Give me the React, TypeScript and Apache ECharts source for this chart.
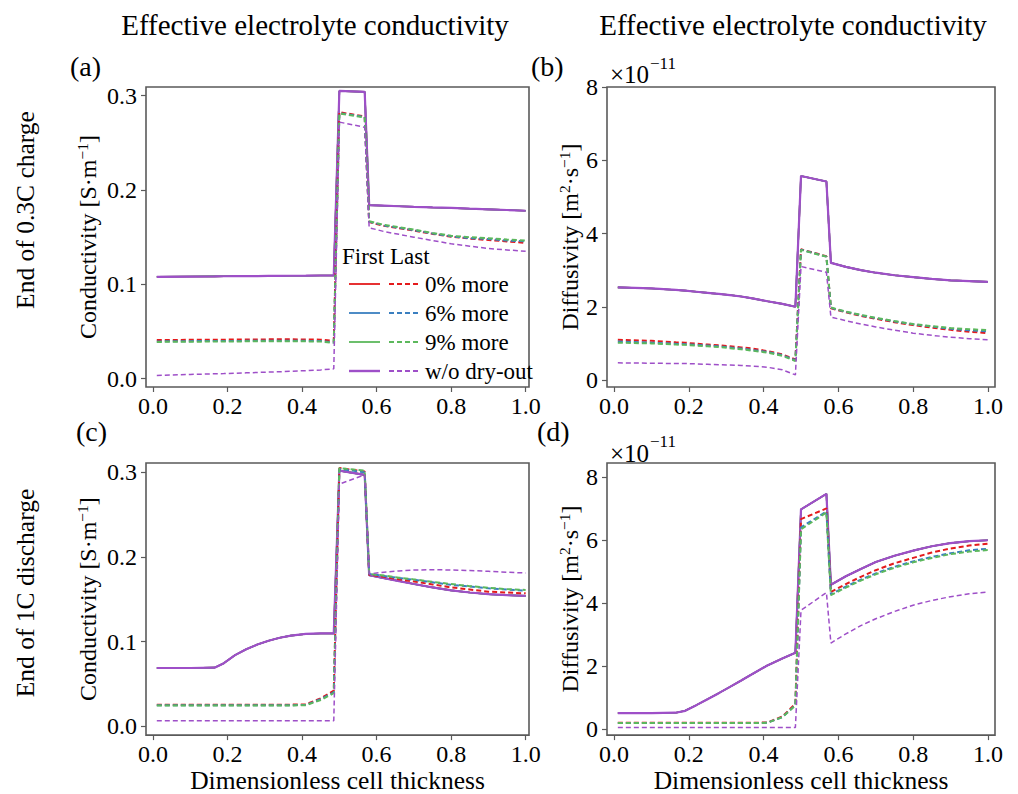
import React, { useEffect, useRef } from "react";
import * as echarts from "echarts";

// ---- data ----
const X = [0.01, 0.1, 0.165, 0.19, 0.22, 0.25, 0.28, 0.31, 0.34, 0.37, 0.41, 0.45, 0.485, 0.5, 0.568, 0.58, 0.62, 0.66, 0.7, 0.75, 0.8, 0.85, 0.9, 0.95, 1.0];
const X_TICKS = [0, 0.2, 0.4, 0.6, 0.8, 1.0];
const COND_TICKS = [0, 0.1, 0.2, 0.3];
const DIFF_TICKS = [0, 2, 4, 6, 8];

// (a) conductivity, end of 0.3C charge
const aFirst = [0.108, 0.1083, 0.1085, 0.1086, 0.1087, 0.1087, 0.1088, 0.1089, 0.109, 0.1091, 0.1092, 0.1094, 0.1095, 0.305, 0.304, 0.184, 0.1834, 0.1828, 0.1822, 0.1815, 0.181, 0.1802, 0.1795, 0.1788, 0.178];
const aLast0 = [0.041, 0.0412, 0.0414, 0.0414, 0.0415, 0.0416, 0.0416, 0.0417, 0.0417, 0.0417, 0.0416, 0.0414, 0.04, 0.2825, 0.278, 0.166, 0.162, 0.1595, 0.157, 0.1535, 0.1505, 0.1485, 0.147, 0.1455, 0.144];
const aLast6 = [0.0395, 0.0398, 0.04, 0.04, 0.04, 0.0401, 0.0401, 0.0402, 0.0402, 0.0402, 0.0401, 0.04, 0.0385, 0.2815, 0.2775, 0.1665, 0.1625, 0.16, 0.1575, 0.154, 0.151, 0.149, 0.148, 0.1465, 0.1455];
const aLast9 = [0.039, 0.0392, 0.0394, 0.0394, 0.0395, 0.0396, 0.0396, 0.0397, 0.0397, 0.0397, 0.0396, 0.0394, 0.038, 0.281, 0.277, 0.167, 0.163, 0.1605, 0.158, 0.1545, 0.1515, 0.15, 0.149, 0.1475, 0.1465];
const aLastW = [0.0035, 0.0045, 0.0052, 0.0054, 0.0058, 0.0062, 0.0066, 0.007, 0.0074, 0.0079, 0.0085, 0.0093, 0.0105, 0.272, 0.2665, 0.16, 0.156, 0.153, 0.15, 0.1465, 0.143, 0.1405, 0.138, 0.1365, 0.135];

// (b) diffusivity (x1e-11), end of 0.3C charge
const bFirst = [2.53, 2.5, 2.46, 2.44, 2.41, 2.38, 2.35, 2.32, 2.28, 2.23, 2.15, 2.08, 2.0, 5.57, 5.42, 3.2, 3.09, 3.0, 2.93, 2.86, 2.81, 2.76, 2.72, 2.7, 2.68];
const bLast0 = [1.1, 1.07, 1.03, 1.02, 0.99, 0.97, 0.95, 0.92, 0.89, 0.86, 0.79, 0.7, 0.56, 3.57, 3.38, 1.96, 1.85, 1.75, 1.67, 1.58, 1.5, 1.43, 1.37, 1.32, 1.28];
const bLast6 = [1.05, 1.02, 0.99, 0.98, 0.96, 0.94, 0.92, 0.89, 0.86, 0.82, 0.77, 0.68, 0.54, 3.56, 3.37, 1.97, 1.86, 1.77, 1.69, 1.6, 1.52, 1.46, 1.4, 1.36, 1.33];
const bLast9 = [1.02, 1.0, 0.97, 0.96, 0.94, 0.92, 0.9, 0.87, 0.84, 0.8, 0.75, 0.66, 0.52, 3.55, 3.37, 1.98, 1.87, 1.78, 1.7, 1.61, 1.53, 1.47, 1.42, 1.39, 1.36];
const bLastW = [0.47, 0.46, 0.45, 0.45, 0.44, 0.43, 0.42, 0.41, 0.4, 0.38, 0.35, 0.28, 0.14, 3.1, 2.94, 1.72, 1.62, 1.53, 1.45, 1.36, 1.28, 1.22, 1.17, 1.13, 1.1];

// (c) conductivity, end of 1C discharge
const cFirst = [0.0688, 0.0688, 0.0692, 0.0745, 0.084, 0.091, 0.0965, 0.101, 0.1045, 0.107, 0.109, 0.1096, 0.1097, 0.302, 0.297, 0.1785, 0.175, 0.1715, 0.168, 0.164, 0.1605, 0.158, 0.156, 0.1548, 0.154];
const cLast0 = [0.0255, 0.0255, 0.0255, 0.0255, 0.0255, 0.0255, 0.0255, 0.0255, 0.0255, 0.0255, 0.0258, 0.033, 0.042, 0.305, 0.301, 0.179, 0.1765, 0.1735, 0.171, 0.1675, 0.164, 0.1615, 0.159, 0.158, 0.157];
const cLast6 = [0.0248, 0.0248, 0.0248, 0.0248, 0.0248, 0.0248, 0.0248, 0.0248, 0.0248, 0.0248, 0.0251, 0.032, 0.04, 0.304, 0.3, 0.18, 0.1775, 0.175, 0.173, 0.17, 0.167, 0.165, 0.163, 0.1615, 0.16];
const cLast9 = [0.0245, 0.0245, 0.0245, 0.0245, 0.0245, 0.0245, 0.0245, 0.0245, 0.0245, 0.0245, 0.0248, 0.031, 0.039, 0.305, 0.302, 0.18, 0.178, 0.1755, 0.1735, 0.1705, 0.168, 0.1655, 0.1635, 0.162, 0.161];
const cLastW = [0.0066, 0.0066, 0.0066, 0.0066, 0.0066, 0.0066, 0.0066, 0.0066, 0.0066, 0.0066, 0.0066, 0.0066, 0.0066, 0.286, 0.297, 0.18, 0.182, 0.1835, 0.1845, 0.185, 0.1845, 0.184, 0.183, 0.182, 0.181];

// (d) diffusivity (x1e-11), end of 1C discharge
const dFirst = [0.51, 0.51, 0.52, 0.58, 0.76, 0.95, 1.14, 1.34, 1.54, 1.75, 2.02, 2.24, 2.42, 6.97, 7.46, 4.58, 4.85, 5.08, 5.3, 5.5, 5.66, 5.8, 5.9, 5.96, 5.99];
const dLast0 = [0.2, 0.2, 0.2, 0.2, 0.2, 0.2, 0.2, 0.2, 0.2, 0.2, 0.21, 0.4, 0.8, 6.66, 7.0, 4.35, 4.6, 4.83, 5.04, 5.26, 5.43, 5.6, 5.73, 5.82, 5.88];
const dLast6 = [0.19, 0.19, 0.19, 0.19, 0.19, 0.19, 0.19, 0.19, 0.19, 0.19, 0.2, 0.38, 0.76, 6.4, 6.9, 4.27, 4.52, 4.74, 4.94, 5.15, 5.32, 5.46, 5.58, 5.67, 5.72];
const dLast9 = [0.19, 0.19, 0.19, 0.19, 0.19, 0.19, 0.19, 0.19, 0.19, 0.19, 0.2, 0.38, 0.75, 6.34, 6.87, 4.25, 4.49, 4.71, 4.91, 5.12, 5.29, 5.43, 5.55, 5.63, 5.68];
const dLastW = [0.05, 0.05, 0.05, 0.05, 0.05, 0.05, 0.05, 0.05, 0.05, 0.05, 0.05, 0.05, 0.05, 3.77, 4.33, 2.73, 3.02, 3.28, 3.5, 3.73, 3.93, 4.08, 4.2, 4.29, 4.35];

const CASES = ["0% more", "6% more", "9% more", "w/o dry-out"];
const COLORS = ["#e41a1c", "#3a7fc0", "#5cb85c", "#9e4fc8"];

const PANEL_FIRST = [aFirst, bFirst, cFirst, dFirst];
const PANEL_LAST = [
  [aLast0, aLast6, aLast9, aLastW],
  [bLast0, bLast6, bLast9, bLastW],
  [cLast0, cLast6, cLast9, cLastW],
  [dLast0, dLast6, dLast9, dLastW],
];

const FONT = '"Liberation Serif", "Times New Roman", serif';
const AX = "#5a5a5a";

export default function App() {
  const ref = useRef<HTMLDivElement>(null);
  useEffect(() => {
    if (!ref.current) return;
    const chart = echarts.init(ref.current, undefined, { renderer: "svg" });

    const grids = [
      { left: 146, top: 87, width: 383, height: 300 },
      { left: 607, top: 87, width: 388, height: 300 },
      { left: 146, top: 463, width: 383, height: 275 },
      { left: 607, top: 463, width: 388, height: 275 },
    ].map((g) => ({ ...g, show: true, borderColor: AX, borderWidth: 1.6, backgroundColor: "transparent" }));

    const xRanges = [
      [-0.019, 1.009],
      [-0.019, 1.019],
      [-0.019, 1.009],
      [-0.019, 1.019],
    ];
    const yRanges = [
      [-0.0088, 0.3092],
      [-0.19, 8.0],
      [-0.0105, 0.311],
      [-0.19, 8.44],
    ];
    const isCond = [true, false, true, false];

    const xAxis = grids.map((_, i) => ({
      type: "value",
      gridIndex: i,
      min: xRanges[i][0],
      max: xRanges[i][1],
      axisLine: { show: false, onZero: false },
      splitLine: { show: false },
      axisTick: { show: true, length: 5, lineStyle: { color: AX, width: 1.2 }, customValues: X_TICKS },
      axisLabel: {
        customValues: X_TICKS,
        formatter: (v: number) => v.toFixed(1),
        fontFamily: FONT,
        fontSize: 24,
        color: "#000",
        margin: 7,
      },
      name: i >= 2 ? "Dimensionless cell thickness" : "",
      nameLocation: "middle",
      nameGap: 24,
      nameTextStyle: { fontFamily: FONT, fontSize: 25.5, color: "#000" },
    }));

    const richName = {
      n: { fontFamily: FONT, fontSize: 24, color: "#000", lineHeight: 28 },
      s: { fontFamily: FONT, fontSize: 15.5, color: "#000", lineHeight: 15, verticalAlign: "top" },
    };

    const yAxis = grids.map((_, i) => ({
      type: "value",
      gridIndex: i,
      min: yRanges[i][0],
      max: yRanges[i][1],
      axisLine: { show: false, onZero: false },
      splitLine: { show: false },
      axisTick: { show: true, length: 5, lineStyle: { color: AX, width: 1.2 }, customValues: isCond[i] ? COND_TICKS : DIFF_TICKS },
      axisLabel: {
        customValues: isCond[i] ? COND_TICKS : DIFF_TICKS,
        formatter: (v: number) => (isCond[i] ? v.toFixed(1) : String(Math.round(v))),
        fontFamily: FONT,
        fontSize: 24,
        color: "#000",
        margin: 9,
      },
      name: isCond[i] ? "{n|Conductivity [S·m}{s|−1}{n|]}" : "{n|Diffusivity [m}{s|2}{n|·s}{s|−1}{n|]}",
      nameLocation: "middle",
      nameGap: isCond[i] ? 44 : 23,
      nameRotate: 90,
      nameTextStyle: { fontFamily: FONT, fontSize: 24, color: "#000", rich: richName },
    }));

    const series: any[] = [];
    for (let p = 0; p < 4; p++) {
      for (let k = 0; k < 4; k++) {
        series.push({
          type: "line",
          name: CASES[k] + " first",
          xAxisIndex: p,
          yAxisIndex: p,
          data: X.map((x, j) => [x, PANEL_FIRST[p][j]]),
          symbol: "none",
          silent: true,
          lineStyle: { color: COLORS[k], width: k === 3 ? 2.2 : 1.6, type: "solid" },
          z: 2,
        });
      }
      for (let k = 0; k < 4; k++) {
        series.push({
          type: "line",
          name: CASES[k] + " last",
          xAxisIndex: p,
          yAxisIndex: p,
          data: X.map((x, j) => [x, PANEL_LAST[p][k][j]]),
          symbol: "none",
          silent: true,
          lineStyle: { color: COLORS[k], width: k === 3 ? 1.5 : 2, type: [5, 3] },
          z: 3,
        });
      }
    }

    const txt = (x: number, y: number, text: string, size: number, extra: any = {}) => ({
      type: "text",
      x,
      y,
      silent: true,
      ...extra,
      style: { text, fontFamily: FONT, fontSize: size, fill: "#000", textAlign: "left", textVerticalAlign: "middle", ...(extra.style || {}) },
    });

    const graphic: any[] = [
      txt(315, 25, "Effective electrolyte conductivity", 29, { style: { textAlign: "center" } }),
      txt(793, 25, "Effective electrolyte conductivity", 29, { style: { textAlign: "center" } }),
      txt(70, 66, "(a)", 28),
      txt(531, 66, "(b)", 28),
      txt(76, 431, "(c)", 28),
      txt(537, 431, "(d)", 28),
      txt(25, 210, "End of 0.3C charge", 25.5, { rotation: Math.PI / 2, style: { textAlign: "center" } }),
      txt(25, 593, "End of 1C discharge", 25.5, { rotation: Math.PI / 2, style: { textAlign: "center" } }),
      txt(610, 74, "×10", 25),
      txt(650, 63, "−11", 17),
      txt(610, 453, "×10", 25),
      txt(650, 441, "−11", 17),
      txt(342, 256, "First Last", 23),
    ];
    const legY = [284, 313, 342, 371];
    for (let k = 0; k < 4; k++) {
      graphic.push({
        type: "line",
        silent: true,
        shape: { x1: 349, y1: legY[k], x2: 380, y2: legY[k] },
        style: { stroke: COLORS[k], lineWidth: k === 3 ? 2.4 : 1.8 },
      });
      graphic.push({
        type: "line",
        silent: true,
        shape: { x1: 389, y1: legY[k], x2: 418, y2: legY[k] },
        style: { stroke: COLORS[k], lineWidth: 1.8, lineDash: [5, 3] },
      });
      graphic.push(txt(425, legY[k], CASES[k], 23));
    }

    chart.setOption({
      animation: false,
      backgroundColor: "#fff",
      grid: grids,
      xAxis,
      yAxis,
      series,
      graphic,
    });
    return () => chart.dispose();
  }, []);
  return <div ref={ref} style={{ position: "fixed", left: 0, top: 0, width: 1018, height: 794 }} />;
}
